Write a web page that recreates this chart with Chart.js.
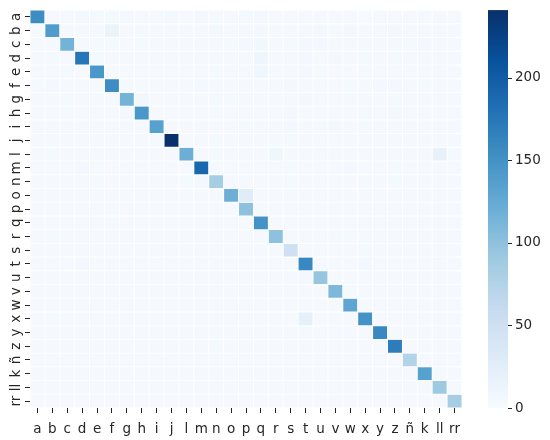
<!DOCTYPE html>
<html>
<head>
<meta charset="utf-8">
<script src="https://cdn.jsdelivr.net/npm/chart.js@4.4.1/dist/chart.umd.min.js"></script>
<style>
  html, body { margin: 0; padding: 0; background: #fff; }
  #wrap { width: 550px; height: 440px; }
</style>
</head>
<body>
<div id="wrap"><canvas id="cm"></canvas></div>
<script>
// class labels (same order on both axes)
var labels = ["a", "b", "c", "d", "e", "f", "g", "h", "i", "j", "l", "m", "n", "o", "p",
  "q", "r", "s", "t", "u", "v", "w", "x", "y", "z", "ñ", "k", "ll", "rr"];

// confusion matrix, one array per true class (row)
var row_a = [155,3,4,5,4,4,5,3,4,5,3,5,4,3,4,5,3,3,4,3,3,4,2,4,3,3,4,3,3];
var row_b = [2,140,3,4,4,15,3,4,3,4,3,4,5,3,4,6,3,3,4,5,4,5,3,4,5,3,4,4,3];
var row_c = [3,3,115,3,4,4,3,4,3,3,4,3,3,4,5,8,3,4,5,5,4,3,4,3,4,4,5,4,3];
var row_d = [3,4,3,175,4,3,4,3,4,4,3,4,3,4,3,11,4,4,5,4,5,3,4,3,4,4,3,4,3];
var row_e = [3,3,4,3,145,3,4,4,3,3,4,3,4,4,3,9,4,4,5,4,3,3,4,4,3,4,3,3,3];
var row_f = [4,5,3,3,3,155,3,3,4,3,4,5,3,4,3,4,4,5,4,3,3,4,3,5,6,3,4,3,3];
var row_g = [3,3,4,3,3,3,115,7,3,4,3,3,4,4,3,3,4,4,5,4,3,4,4,3,4,3,3,4,3];
var row_h = [3,3,4,4,4,4,5,145,3,3,4,3,4,3,3,4,4,5,4,3,3,3,4,3,5,4,3,4,3];
var row_i = [3,4,3,4,4,4,3,3,135,3,3,4,3,3,4,4,4,5,3,4,5,3,4,4,3,4,3,3,3];
var row_j = [3,3,4,3,3,4,3,3,3,241,3,3,4,3,3,3,4,4,3,3,3,3,3,3,3,4,3,3,3];
var row_l = [3,4,3,4,3,4,3,3,3,3,120,3,4,3,3,3,10,3,3,3,4,3,3,3,3,3,3,18,4];
var row_m = [4,3,4,5,4,3,3,3,4,3,3,190,3,3,3,4,3,4,3,4,4,5,3,3,4,3,3,3,3];
var row_n = [3,3,3,3,4,3,3,3,3,3,4,5,85,3,3,3,4,4,3,3,3,3,4,3,4,3,3,3,3];
var row_o = [3,3,4,3,3,3,3,3,3,3,3,3,3,120,28,3,3,4,4,3,3,3,3,3,3,3,3,3,3];
var row_p = [3,3,3,3,4,4,3,3,3,3,3,3,3,3,100,3,3,4,3,3,3,3,3,3,3,3,3,3,3];
var row_q = [4,3,3,4,3,4,3,3,3,3,3,3,3,3,3,150,3,3,3,3,3,3,4,3,3,3,3,3,3];
var row_r = [3,4,4,3,3,3,4,3,3,3,3,3,3,3,3,3,100,3,3,3,4,4,3,3,3,3,3,4,3];
var row_s = [3,3,3,3,3,3,3,3,4,3,3,3,3,3,3,3,3,50,3,3,3,3,4,3,3,3,3,4,3];
var row_t = [3,3,4,6,3,3,3,3,3,3,3,3,3,3,3,3,3,3,160,3,3,3,6,3,3,3,4,3,3];
var row_u = [3,3,3,4,3,3,3,3,3,3,3,3,3,3,3,4,3,3,5,95,3,3,3,3,3,3,3,3,3];
var row_v = [3,3,3,3,3,4,3,3,3,3,3,3,3,3,3,3,3,3,3,3,110,4,3,3,3,3,3,3,3];
var row_w = [4,3,3,3,3,3,3,4,3,3,3,3,3,3,3,3,3,3,3,3,4,130,3,3,3,3,3,3,3];
var row_x = [3,4,4,3,3,4,3,3,3,3,3,3,3,3,3,3,3,3,20,3,3,3,150,3,3,3,3,3,3];
var row_y = [3,3,3,3,4,3,3,3,3,3,3,3,3,3,3,3,3,3,3,3,3,3,3,160,3,3,3,3,3];
var row_z = [3,3,3,3,3,3,3,3,3,3,3,3,4,3,3,3,3,3,3,3,3,3,3,3,170,3,3,3,3];
var row_nn = [3,3,3,3,3,3,3,3,3,3,3,3,3,3,3,3,3,3,3,3,3,3,3,3,3,75,3,3,3];
var row_k = [3,3,3,4,3,3,3,3,3,3,3,3,3,3,3,3,3,3,3,3,3,3,3,3,3,3,135,3,3];
var row_ll = [3,3,3,3,3,3,3,3,3,3,3,3,3,3,3,3,4,3,3,3,3,3,3,3,3,3,3,90,3];
var row_rr = [3,3,3,3,3,3,3,3,3,3,3,3,3,3,3,3,3,3,3,3,3,3,3,3,3,3,3,3,85];

var matrix = [row_a, row_b, row_c, row_d, row_e, row_f, row_g, row_h, row_i, row_j,
  row_l, row_m, row_n, row_o, row_p, row_q, row_r, row_s, row_t, row_u, row_v, row_w,
  row_x, row_y, row_z, row_nn, row_k, row_ll, row_rr];

// colour bar ticks
var cbarTicks = [0, 50, 100, 150, 200];

var vmin = 0;
var vmax = Math.max.apply(null, matrix.map(function (r) { return Math.max.apply(null, r); }));

// matplotlib "Blues"
var blues = ["#f7fbff", "#deebf7", "#c6dbef", "#9ecae1", "#6baed6", "#4292c6", "#2171b5", "#08519c", "#08306b"];

function hexToRgb(h) {
  return [parseInt(h.substr(1, 2), 16), parseInt(h.substr(3, 2), 16), parseInt(h.substr(5, 2), 16)];
}

function bluesColor(v) {
  var t = Math.max(0, Math.min(1, (v - vmin) / (vmax - vmin)));
  var pos = t * (blues.length - 1);
  var i = Math.min(Math.floor(pos), blues.length - 2);
  var f = pos - i;
  var a = hexToRgb(blues[i]), b = hexToRgb(blues[i + 1]);
  var c = a.map(function (x, k) { return Math.round(x + (b[k] - x) * f); });
  return "rgb(" + c[0] + "," + c[1] + "," + c[2] + ")";
}

// one floating-bar dataset per row
var datasets = matrix.map(function (row, r) {
  return {
    data: row.map(function () { return [r, r + 1]; }),
    backgroundColor: row.map(bluesColor),
    borderColor: "#ffffff",
    borderWidth: 0.8,
    borderSkipped: false,
    grouped: false,
    barPercentage: 1,
    categoryPercentage: 1,
  };
});

var textColor = "#262626";
var tickFont = { family: "DejaVu Sans", size: 13.5 };

// colour bar drawn next to the plot
var colorBar = {
  id: "colorBar",
  afterDraw: function (chart) {
    var ctx = chart.ctx;
    var area = chart.chartArea;
    var x0 = 488, w = 20;
    var top = area.top, bottom = area.bottom;
    var grad = ctx.createLinearGradient(0, bottom, 0, top);
    blues.forEach(function (c, i) { grad.addColorStop(i / (blues.length - 1), c); });
    ctx.save();
    ctx.fillStyle = grad;
    ctx.fillRect(x0, top, w, bottom - top);
    ctx.strokeStyle = textColor;
    ctx.fillStyle = textColor;
    ctx.lineWidth = 1;
    ctx.font = "13.5px 'DejaVu Sans'";
    ctx.textBaseline = "middle";
    cbarTicks.forEach(function (v) {
      var y = bottom - (v - vmin) / (vmax - vmin) * (bottom - top);
      ctx.beginPath();
      ctx.moveTo(x0 + w, Math.round(y) + 0.5);
      ctx.lineTo(x0 + w + 4, Math.round(y) + 0.5);
      ctx.stroke();
      ctx.fillText(String(v), x0 + w + 7, y);
    });
    ctx.restore();
  },
};

var ctx = document.getElementById("cm").getContext("2d");
var cmChart = new Chart(ctx, {
  type: "bar",
  data: { labels: labels, datasets: datasets },
  plugins: [colorBar],
  options: {
    responsive: true,
    maintainAspectRatio: false,
    animation: false,
    layout: { padding: { top: 7, right: 88, left: 0, bottom: 0 } },
    plugins: { legend: { display: false }, tooltip: { enabled: false } },
    scales: {
      x: {
        offset: true,
        grid: { display: true, drawOnChartArea: false, drawTicks: true, tickLength: 5, color: textColor, offset: false },
        border: { display: false },
        ticks: { color: textColor, font: tickFont, padding: 8, maxRotation: 0, autoSkip: false },
        afterFit: function (scale) { scale.height = 32; },
      },
      y: {
        type: "linear",
        min: 0,
        max: labels.length,
        reverse: true,
        grid: { display: true, drawOnChartArea: false, drawTicks: true, tickLength: 5, color: textColor },
        border: { display: false },
        afterBuildTicks: function (scale) {
          scale.ticks = labels.map(function (_, i) { return { value: i + 0.5 }; });
        },
        ticks: {
          color: textColor,
          font: tickFont,
          padding: 2,
          autoSkip: false,
          minRotation: 90,
          maxRotation: 90,
          crossAlign: "center",
          callback: function (v) { return labels[Math.floor(v)]; },
        },
        afterFit: function (scale) { scale.width = 30; },
      },
    },
  },
});
</script>
</body>
</html>
